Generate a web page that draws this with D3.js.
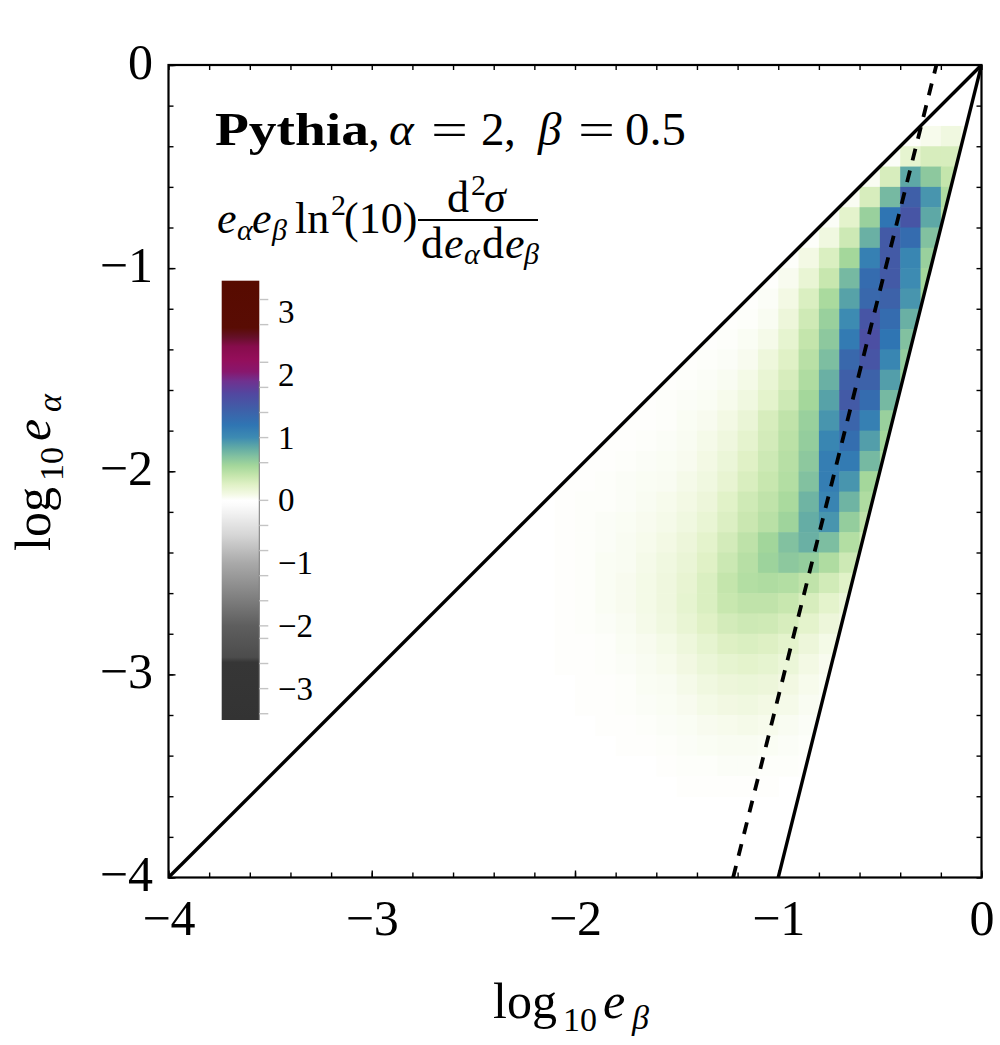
<!DOCTYPE html>
<html><head><meta charset="utf-8">
<script src="https://cdn.jsdelivr.net/npm/d3@7"></script>
<style>body{margin:0;background:#fff}svg{display:block}text{font-family:"Liberation Serif","DejaVu Serif",serif;fill:#000}</style>
</head><body>
<svg id="chart" width="1000" height="1045"></svg>
<script>
// ---------------- data ----------------
const xTickValues = [-4, -3, -2, -1, 0];
const yTickValues = [0, -1, -2, -3, -4];
// heat-map cell centres (log10 e_beta columns, log10 e_alpha rows)
const colX = [-2.05,-1.95,-1.85,-1.75,-1.65,-1.55,-1.45,-1.35,-1.25,-1.15,-1.05,-0.95,-0.85,-0.75,-0.65,-0.55,-0.45,-0.35,-0.25,-0.15,-0.05];
const rowY = [-0.35,-0.45,-0.55,-0.65,-0.75,-0.85,-0.95,-1.05,-1.15,-1.25,-1.35,-1.45,-1.55,-1.65,-1.75,-1.85,-1.95,-2.05,-2.15,-2.25,-2.35,-2.45,-2.55,-2.65,-2.75,-2.85,-2.95,-3.05,-3.15,-3.25,-3.35,-3.45,-3.55];
// e_a e_b ln^2(10) d^2sigma/(de_a de_b), one row per rowY, columns follow colX
const density = [
 [0,0,0,0,0,0,0,0,0,0,0,0,0,0,0,0,0,.02,.07,.12,.06],
 [0,0,0,0,0,0,0,0,0,0,0,0,0,0,0,0,.03,.2,.3,.3,0],
 [0,0,0,0,0,0,0,0,0,0,0,0,0,0,0,.05,.3,.85,.65,.4,0],
 [0,0,0,0,0,0,0,0,0,0,0,0,0,0,.05,.3,.75,1.45,.95,.5,0],
 [0,0,0,0,0,0,0,0,0,0,0,0,0,.03,.22,.6,1.2,1.55,.85,.45,0],
 [0,0,0,0,0,0,0,0,0,0,0,0,.02,.12,.35,.8,1.5,1.3,.7,0,0],
 [0,0,0,0,0,0,0,0,0,0,0,.02,.1,.28,.55,1.1,1.5,1.05,.6,0,0],
 [0,0,0,0,0,0,0,0,0,0,.01,.06,.18,.38,.75,1.3,1.5,1.0,.55,0,0],
 [0,0,0,0,0,0,0,0,0,.01,.03,.1,.28,.52,.88,1.35,1.42,.95,.55,0,0],
 [0,0,0,0,0,0,0,0,.01,.02,.05,.15,.34,.6,1.0,1.55,1.3,.8,0,0,0],
 [0,0,0,0,0,0,0,.01,.02,.04,.08,.2,.4,.65,1.15,1.62,1.2,.7,0,0,0],
 [0,0,0,0,0,0,.01,.02,.03,.06,.14,.25,.45,.72,1.35,1.55,1.05,.62,0,0,0],
 [0,0,0,0,0,.01,.02,.03,.05,.09,.18,.3,.5,.8,1.45,1.42,.9,.58,0,0,0],
 [0,0,0,0,.01,.02,.03,.04,.07,.12,.22,.35,.55,.88,1.5,1.3,.75,0,0,0,0],
 [0,0,0,.01,.01,.02,.04,.06,.1,.17,.3,.42,.6,.95,1.38,1.1,.6,0,0,0,0],
 [0,0,.01,.01,.02,.03,.05,.08,.13,.21,.32,.44,.62,1.05,1.28,.9,.55,0,0,0,0],
 [0,.01,.01,.02,.03,.04,.06,.1,.16,.25,.35,.46,.65,1.12,1.15,.75,.5,0,0,0,0],
 [.01,.01,.02,.03,.04,.05,.08,.12,.19,.29,.38,.48,.7,1.12,.95,.55,0,0,0,0,0],
 [.01,.02,.02,.03,.05,.07,.1,.15,.24,.34,.42,.52,.78,1.06,.78,.5,0,0,0,0,0],
 [.01,.02,.03,.04,.06,.08,.12,.18,.27,.37,.45,.57,.82,.95,.62,.42,0,0,0,0,0],
 [.01,.02,.03,.05,.07,.1,.15,.22,.32,.43,.56,.7,.8,.72,.48,.32,0,0,0,0,0],
 [.01,.02,.04,.05,.08,.12,.17,.25,.36,.46,.58,.65,.62,.5,.35,0,0,0,0,0,0],
 [.01,.02,.04,.06,.09,.13,.19,.28,.4,.48,.5,.48,.42,.33,.24,0,0,0,0,0,0],
 [.01,.02,.04,.06,.09,.13,.2,.28,.38,.42,.42,.38,.3,.22,.15,0,0,0,0,0,0],
 [.01,.02,.03,.05,.08,.12,.18,.25,.32,.35,.34,.3,.22,.15,.1,0,0,0,0,0,0],
 [.01,.01,.02,.04,.06,.09,.14,.2,.26,.28,.26,.22,.15,.09,0,0,0,0,0,0,0],
 [.01,.01,.02,.03,.05,.07,.11,.16,.2,.22,.2,.16,.1,.06,0,0,0,0,0,0,0],
 [0,.01,.01,.02,.04,.05,.08,.12,.15,.16,.15,.11,.07,.04,0,0,0,0,0,0,0],
 [0,.01,.01,.02,.03,.04,.06,.09,.11,.12,.1,.08,.05,.03,0,0,0,0,0,0,0],
 [0,0,.01,.01,.02,.03,.04,.06,.07,.08,.07,.05,.03,0,0,0,0,0,0,0,0],
 [0,0,0,.01,.01,.02,.03,.04,.05,.05,.04,.03,.02,0,0,0,0,0,0,0,0],
 [0,0,0,0,0,.01,.02,.02,.03,.03,.02,.02,.01,0,0,0,0,0,0,0,0],
 [0,0,0,0,0,0,.01,.01,.01,.01,.01,0,0,0,0,0,0,0,0,0,0]
];
// reference lines (log10 e_beta, log10 e_alpha)
const diagonalLine = [[-4,-4],[0,0]];
const boundaryLine = [[-1,-4],[0,0]];
const dashedLine  = [[-1.222,-4],[-0.222,0]];
// colour bar
const cbDomain = [-3.5, 3.5];
const cbStopValues = [-3.5,-2.58,-2.5,-2.0,-1.6,-1.0,-0.55,-0.08,0,0.1,0.25,0.4,0.55,0.7,0.85,1.0,1.2,1.45,1.7,1.9,2.05,2.25,2.45,2.6,2.75,3.5];
const cbStopColors = ["#333333","#363636","#4c4c4c","#5e5e5e","#7c7c7c","#a9a9a9","#d6d6d6","#fbfbfb","#ffffff","#f3f9e4","#e0f1c6","#c4e5ac","#a4d79b","#82c1a0","#5ea8a6","#3d8bb2","#2f75b3","#3f5fa8","#5247a0","#70318f","#88176d","#940e5a","#870c4c","#651028","#590c04","#570b00"];
const cbLabelValues = [3,2,1,0,-1,-2,-3];
const cbMinorTicks = [3.2,2.8,2.2,1.8,1.4,1.0,0.6,0,-0.4,-0.8,-1.2,-1.6,-2.0,-2.2,-2.6,-3.0,-3.4];

// ---------------- layout ----------------
const P = {left:168.5, right:981.5, top:65, bottom:877.5};
const x = d3.scaleLinear().domain([-4,0]).range([P.left,P.right]);
const y = d3.scaleLinear().domain([-4,0]).range([P.bottom,P.top]);
const color = d3.scaleLinear().domain(cbStopValues).range(cbStopColors).clamp(true);
const svg = d3.select('#chart');
const defs = svg.append('defs');
const line = d3.line().x(d=>x(d[0])).y(d=>y(d[1]));

defs.append('clipPath').attr('id','kin').append('path')
  .attr('d', line([diagonalLine[0], diagonalLine[1], boundaryLine[0]]) + 'Z');
defs.append('clipPath').attr('id','plotArea').append('rect')
  .attr('x',P.left).attr('y',P.top).attr('width',P.right-P.left).attr('height',P.bottom-P.top);

// heat map
const halfW = (colX[1]-colX[0])/2, halfH = (rowY[0]-rowY[1])/2;
const cells = [];
rowY.forEach((ry,j)=>density[j].forEach((v,k)=>{ if(v>0) cells.push({cx:colX[k], cy:ry, v}); }));
svg.append('g').attr('clip-path','url(#kin)').selectAll('rect').data(cells).join('rect')
  .attr('x',d=>x(d.cx-halfW)).attr('y',d=>y(d.cy+halfH))
  .attr('width',d=>x(d.cx+halfW)-x(d.cx-halfW)+0.6)
  .attr('height',d=>y(d.cy-halfH)-y(d.cy+halfH)+0.6)
  .attr('fill',d=>color(d.v));

// lines
const lg = svg.append('g').attr('clip-path','url(#plotArea)').attr('fill','none').attr('stroke','#000');
lg.append('path').attr('d',line(diagonalLine)).attr('stroke-width',3.4);
lg.append('path').attr('d',line(boundaryLine)).attr('stroke-width',3.4);
lg.append('path').attr('d',line(dashedLine)).attr('stroke-width',3.8).attr('stroke-dasharray','12,10.4');

// axes ticks (inward)
const minor = d3.range(-4, 0.0001, 0.2).map(v=>+v.toFixed(1));
function ticks(axisFn, scale, transform, values, size){
  const g = svg.append('g').attr('transform',transform)
    .call(axisFn(scale).tickValues(values).tickSize(-size).tickSizeOuter(0).tickFormat(''));
  g.select('.domain').remove();
  g.selectAll('line').attr('stroke','#000').attr('stroke-width',1.4);
  return g;
}
ticks(d3.axisBottom, x, `translate(0,${P.bottom})`, minor, 5);
ticks(d3.axisTop, x, `translate(0,${P.top})`, minor, 5);
ticks(d3.axisLeft, y, `translate(${P.left},0)`, minor, 5);
ticks(d3.axisRight, y, `translate(${P.right},0)`, minor, 5);

// tick labels
const fmt = d3.format('d');
const xb = svg.append('g').attr('transform',`translate(0,${P.bottom})`)
  .call(d3.axisBottom(x).tickValues(xTickValues).tickSize(-7).tickSizeOuter(0).tickFormat(fmt));
xb.select('.domain').remove();
xb.selectAll('line').attr('stroke','#000').attr('stroke-width',1.4);
xb.selectAll('text').attr('y',57.5).attr('dy',null).attr('font-size',50)
  .style('font-family','"Liberation Serif",serif').attr('fill','#000');
const yl = svg.append('g').attr('transform',`translate(${P.left},0)`)
  .call(d3.axisLeft(y).tickValues(yTickValues).tickSize(-7).tickSizeOuter(0).tickFormat(fmt));
yl.select('.domain').remove();
yl.selectAll('line').attr('stroke','#000').attr('stroke-width',1.4);
yl.selectAll('text').attr('x',-15.5).attr('dy',null).attr('y',13).attr('font-size',50)
  .style('font-family','"Liberation Serif",serif').attr('fill','#000');

// frame
svg.append('rect').attr('x',P.left).attr('y',P.top).attr('width',P.right-P.left).attr('height',P.bottom-P.top)
  .attr('fill','none').attr('stroke','#000').attr('stroke-width',2.2);

// text helper
function pieces(g, list, base){
  list.forEach(p=>{
    const t = g.append('text').attr('x',p.x).attr('y',(p.y!==undefined?p.y:base)).text(p.t)
      .attr('font-size',p.size||50)
      .attr('font-style',p.it?'italic':'normal')
      .attr('font-weight',p.b?'bold':'normal');
    if(p.len) t.attr('textLength',p.len).attr('lengthAdjust','spacingAndGlyphs');
  });
}
// axis titles
const axisTitle = (sub)=>[
  {t:'log',x:0},{t:'10',x:70,y:13,size:34},{t:'e',x:110,it:true},{t:sub,x:139,y:11,size:34,it:true}
];
pieces(svg.append('g').attr('transform','translate(493,1018)'), axisTitle('β'), 0);
pieces(svg.append('g').attr('transform','translate(50,551) rotate(-90)'), axisTitle('α'), 0);

// title
pieces(svg.append('g'), [
  {t:'Pythia',x:215,b:true,len:154,size:47},
  {t:',',x:368,size:47},
  {t:'α',x:389,it:true,size:47},
  {t:'=',x:431,len:37,size:47},
  {t:'2',x:481,size:47},
  {t:',',x:504,size:47},
  {t:'β',x:538,it:true,size:47},
  {t:'=',x:578,len:37,size:47},
  {t:'0.5',x:625,len:61,size:47}
], 145);

// colour-bar label formula
const fg = svg.append('g');
pieces(fg, [
  {t:'e',x:217,it:true,size:44},{t:'α',x:237,y:240,size:30,it:true},
  {t:'e',x:252,it:true,size:44},{t:'β',x:272,y:240,size:30,it:true},
  {t:'ln',x:295,size:44},{t:'2',x:331,y:215,size:30},
  {t:'(10)',x:344,size:44}
], 233);
pieces(fg, [{t:'d',x:447,size:44},{t:'2',x:471,y:195,size:30},{t:'σ',x:484,it:true,size:44}], 212);
fg.append('line').attr('x1',418).attr('x2',538).attr('y1',220).attr('y2',220).attr('stroke','#000').attr('stroke-width',1.8);
pieces(fg, [
  {t:'d',x:421,size:44},{t:'e',x:444,it:true,size:44},{t:'α',x:464,y:264,size:30,it:true},
  {t:'d',x:482,size:44},{t:'e',x:505,it:true,size:44},{t:'β',x:524,y:264,size:30,it:true}
], 258);

// colour bar
const CB = {x:221.7, w:37.6, top:280.7, bottom:720};
const cy = d3.scaleLinear().domain(cbDomain).range([CB.bottom, CB.top]);
const grad = defs.append('linearGradient').attr('id','cbg').attr('x1',0).attr('y1',1).attr('x2',0).attr('y2',0);
cbStopValues.forEach((v,i)=>grad.append('stop')
  .attr('offset',(v-cbDomain[0])/(cbDomain[1]-cbDomain[0])).attr('stop-color',cbStopColors[i]));
svg.append('rect').attr('x',CB.x).attr('y',CB.top).attr('width',CB.w).attr('height',CB.bottom-CB.top).attr('fill','url(#cbg)');
svg.append('line').attr('x1',CB.x+CB.w).attr('x2',CB.x+CB.w).attr('y1',cy(1.9)).attr('y2',CB.bottom)
  .attr('stroke','#777').attr('stroke-width',1);
svg.append('g').selectAll('line').data(cbMinorTicks).join('line')
  .attr('x1',CB.x+CB.w).attr('x2',CB.x+CB.w+9).attr('y1',d=>cy(d)).attr('y2',d=>cy(d))
  .attr('stroke','#c4c4c4').attr('stroke-width',1.4);
svg.append('g').selectAll('text').data(cbLabelValues).join('text')
  .attr('x',278).attr('y',d=>cy(d)+11).attr('font-size',33).text(d=>fmt(d));
</script>
</body></html>
